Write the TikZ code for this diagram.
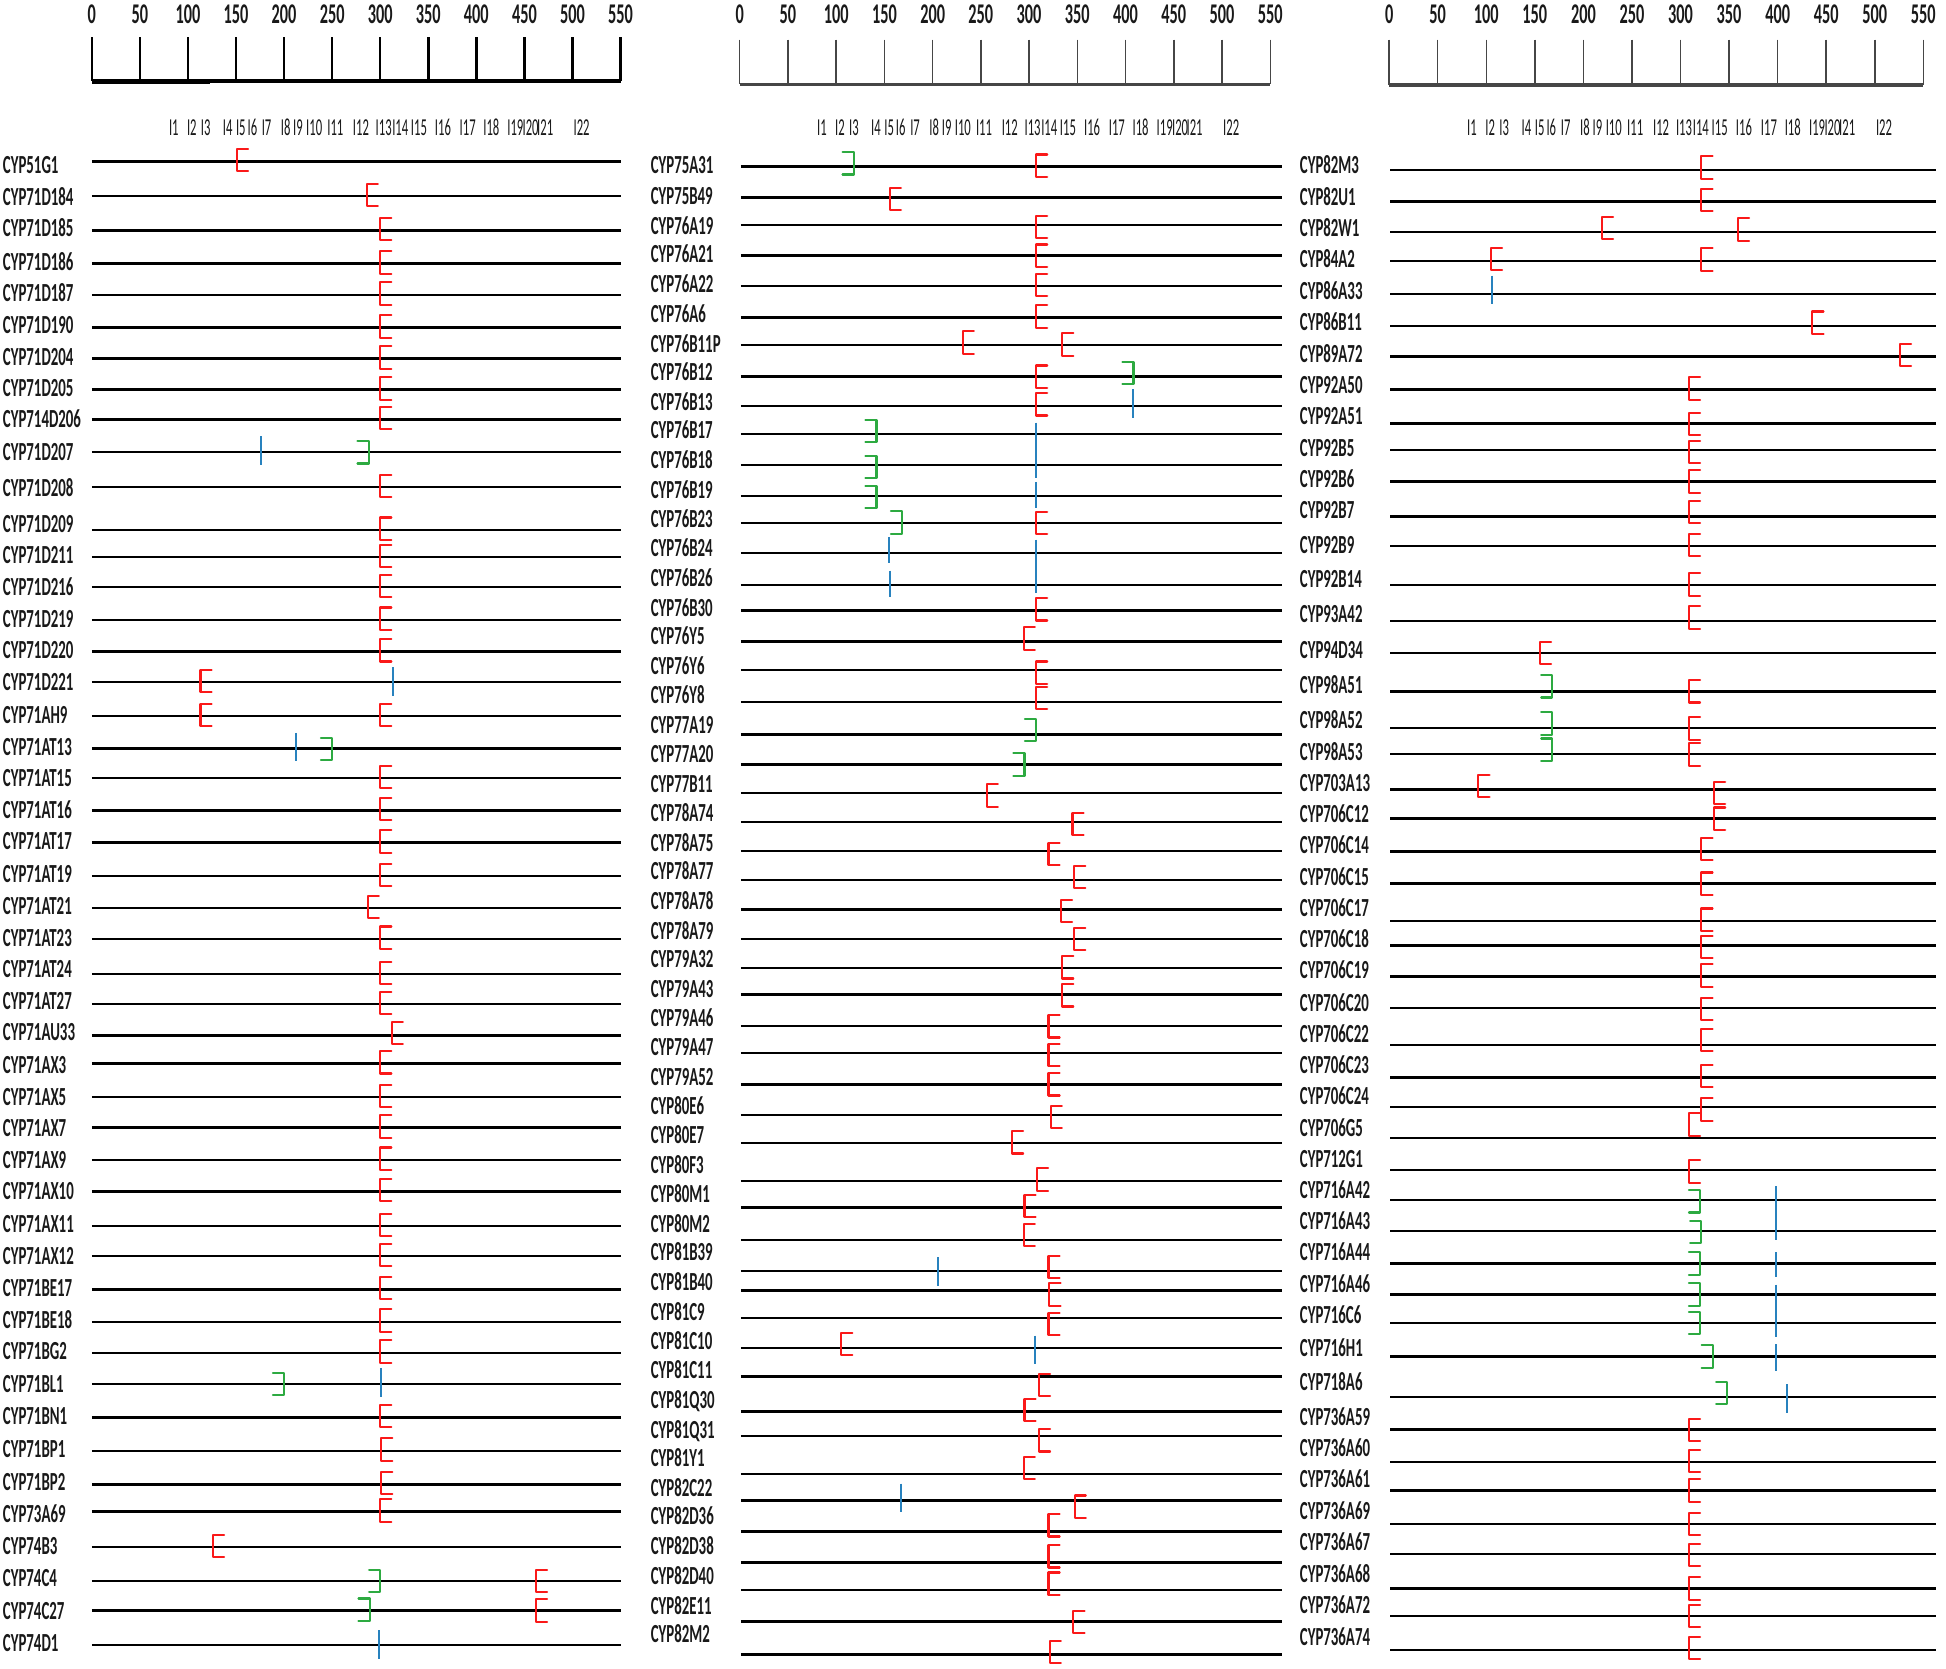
\documentclass[tikz,border=0pt]{standalone}
\usepackage{fontspec}
\newfontfamily\labfont{Carlito}[FakeStretch=0.57]
\newfontfamily\intfont{Carlito}[FakeStretch=0.52]
\definecolor{mred}{RGB}{250,25,25}
\definecolor{mgreen}{RGB}{45,170,65}
\definecolor{mblue}{RGB}{40,130,190}
\definecolor{rulegray}{RGB}{70,70,70}
\newcommand\rulerset[6]{% #1 ox, #2 sx, #3 tick top, #4 baseline, #5 tag, #6 tick style
  \foreach \k in {0,50,...,550}{
    \draw[#6] ({#1+#2*\k},#3) -- ({#1+#2*\k},#4);
    \node[num] (num#5-\k) at ({#1+#2*\k},19) {\k};
  }
  \draw[#6,line width=1.3pt] (#1,#4) -- ({#1+#2*550},#4);
  \foreach \t/\u in {I1/85.3,I2/104,I3/118.4,I4/141.3,I5/155,I6/167,I7/181.8,I8/201.6,I9/214.5,I10/231.3,I11/253.3,I12/280,I13/303.6,I14/320.9,I15/340.3,I16/365.3,I17/391,I18/415.6,I19/440.6,I20/456.5,I21/471.6,I22/509.5}{
    \node[intr] (in#5-\t) at ({#1+#2*\u},109.4) {\t};
  }
}
\begin{document}
\begin{tikzpicture}[x=0.5pt,y=-0.5pt,
  gene/.style={line width=1pt,black},
  lab/.style={anchor=base west,inner sep=0pt,font=\labfont\bfseries\fontsize{10.5}{12}\selectfont,text=black!90},
  num/.style={anchor=base,inner sep=0pt,font=\labfont\bfseries\fontsize{11.5}{13}\selectfont,text=black!90},
  intr/.style={anchor=base,inner sep=0pt,font=\intfont\fontsize{9.8}{11}\selectfont,text=black!90},
  tickA/.style={black,line width=1pt},
  tickB/.style={rulegray,line width=0.6pt},
  redm/.style={mred,line width=0.85pt,line join=round,line cap=round},
  grnm/.style={mgreen,line width=0.85pt,line join=round,line cap=round},
  blum/.style={mblue,line width=0.8pt},
  redb/.pic={\draw[redm] (9,-9) -- (0,-9) -- (0,9) -- (9,9);},
  grnb/.pic={\draw[grnm] (-9,-9) -- (0,-9) -- (0,9) -- (-9,9);},
  blub/.pic={\draw[blum] (0,-11.5) -- (0,11.5);}
]
\useasboundingbox (0,0) rectangle (1568,1344);
\fill[white] (0,0) rectangle (1568,1344);

%================ PANEL 1 =================
\rulerset{74}{0.7745}{30}{65.3}{A}{tickA}
\draw[black,line width=2pt] (74,65.3) -- ({74+0.7745*123},65.3);
\foreach \nm/\ly/\gy in {CYP51G1/133/130, CYP71D184/159/158, CYP71D185/184/185.7, CYP71D186/211/212.5, CYP71D187/236/237.5, CYP71D190/262/264, CYP71D204/288/289, CYP71D205/313/314, CYP714D206/338/338, CYP71D207/364/364, CYP71D208/393/392.5, CYP71D209/422/427, CYP71D211/447/449, CYP71D216/473/473, CYP71D219/499/499.5, CYP71D220/524/525, CYP71D221/550/549.6, CYP71AH9/576/577, CYP71AT13/602/603, CYP71AT15/627/627, CYP71AT16/653/653, CYP71AT17/678/679, CYP71AT19/704/706, CYP71AT21/730/731.6, CYP71AT23/756/756.5, CYP71AT24/781/785, CYP71AT27/807/809, CYP71AU33/832/834.5, CYP71AX3/858/857, CYP71AX5/884/884, CYP71AX7/909/908.6, CYP71AX9/935/934.6, CYP71AX10/960/960, CYP71AX11/986/988, CYP71AX12/1012/1012, CYP71BE17/1038/1039, CYP71BE18/1064/1065, CYP71BG2/1089/1090, CYP71BL1/1115/1115, CYP71BN1/1141/1142, CYP71BP1/1168/1169, CYP71BP2/1194/1196, CYP73A69/1220/1218, CYP74B3/1246/1246.6, CYP74C4/1272/1274, CYP74C27/1298/1297.7, CYP74D1/1324/1325.6}{
  \node[lab] (g-\nm) at (2,\ly+6.7) {\nm};
  \draw[gene] (74,\gy) -- (500,\gy);
}
\def\ox{74}\def\sx{0.7745}
\foreach \u/\y in {151/129, 286/157, 300/184.7, 300/211.5, 300/236.5, 300/263, 300/288, 300/313, 300/337, 300/391.5, 300/426, 300/448, 300/472, 300/498.5, 300/524, 113/548.6, 113/576, 300/576, 300/626, 300/652, 300/678, 300/705, 287/730.6, 300/755.5, 300/784, 300/808, 312/832.5, 300/856, 300/883, 300/907.6, 300/933.6, 300/959, 300/987, 300/1011, 300/1038, 300/1064, 300/1089, 300/1141, 301/1168, 301/1195, 300/1217, 126/1245.6, 462/1274, 462/1297.7}{
  \pic at ({\ox+\sx*\u},\y) {redb};
}
\foreach \u/\y in {288/364.5, 250/603.5, 200/1115, 300/1274, 289/1297}{
  \pic at ({\ox+\sx*\u},\y) {grnb};
}
\foreach \u/\y in {176/363, 313/549, 212/602, 301/1114, 299/1325}{
  \pic at ({\ox+\sx*\u},\y) {blub};
}

%================ PANEL 2 =================
\rulerset{596}{0.7773}{32}{68}{B}{tickB}
\foreach \nm/\ly/\gy in {CYP75A31/133/134.3, CYP75B49/158/159, CYP76A19/182/181.3, CYP76A21/205/206, CYP76A22/229/230.5, CYP76A6/253/256, CYP76B11P/277/278, CYP76B12/300/303.5, CYP76B13/324/327, CYP76B17/347/349.7, CYP76B18/371/374.5, CYP76B19/395/399.5, CYP76B23/418/421.5, CYP76B24/442/445.6, CYP76B26/466/471.4, CYP76B30/490/492, CYP76Y5/513/516.8, CYP76Y6/537/540, CYP76Y8/560/565.6, CYP77A19/584/591.8, CYP77A20/608/616, CYP77B11/632/639, CYP78A74/655/662.4, CYP78A75/679/685.8, CYP78A77/702/709, CYP78A78/726/733, CYP78A79/750/756.4, CYP79A32/773/780, CYP79A43/797/801.5, CYP79A46/820/826.8, CYP79A47/844/848.5, CYP79A52/868/874, CYP80E6/891/898.5, CYP80E7/915/921, CYP80F3/939/951.7, CYP80M1/962/973, CYP80M2/986/999, CYP81B39/1009/1024, CYP81B40/1033/1040, CYP81C9/1057/1062, CYP81C10/1081/1086, CYP81C11/1104/1109, CYP81Q30/1128/1137.4, CYP81Q31/1152/1157, CYP81Y1/1175/1187.5, CYP82C22/1199/1209, CYP82D36/1222/1234, CYP82D38/1246/1259, CYP82D40/1270/1281, CYP82E11/1294/1306.6, CYP82M2/1317/1333}{
  \node[lab] (g-\nm) at (524,\ly+6.7) {\nm};
  \draw[gene] (597,\gy) -- (1033,\gy);
}
\def\ox{596}\def\sx{0.7773}
\foreach \u/\y in {307.2/133.5, 155.6/160.5, 307.2/183, 307.2/206, 307.2/229.8, 307.2/255, 231.2/276, 334.3/277.6, 307.2/303.5, 307.2/325.8, 307.2/421.5, 307.2/491, 294.3/514.5, 307.2/542, 307.2/562.6, 256.1/641, 345/664, 320.1/688, 346.8/706.7, 333/734, 346.8/756.4, 334.3/779.4, 334.3/802, 320.1/827, 320.1/850, 320.1/873.7, 322.3/900, 282.3/920.4, 308.1/950.4, 295.2/971.7, 294.3/995, 320.1/1021, 321/1043, 320.1/1067, 105.3/1083, 310.2/1116, 295.2/1136.1, 310.2/1160.5, 294.3/1183, 347.2/1214, 320.1/1229, 320.1/1254, 320.1/1276, 345.9/1307, 321.4/1331}{
  \pic at ({\ox+\sx*\u},\y) {redb};
}
\foreach \u/\y in {118.2/131.6, 408.2/300.5, 141.8/347.2, 141.8/376.5, 141.8/400.5, 168.4/421, 307.2/588.4, 295.2/616}{
  \pic at ({\ox+\sx*\u},\y) {grnb};
}
\foreach \u/\y in {408.2/325, 205.4/1024.5, 306.4/1087.6, 167.6/1207}{
  \pic at ({\ox+\sx*\u},\y) {blub};
}
\foreach \u/\ya/\yb in {307.2/340.6/385.2, 307.2/388.3/409.7, 307.2/434.7/478, 155/433/453.5, 155.5/459.8/481}{
  \draw[blum] ({\ox+\sx*\u},\ya) -- ({\ox+\sx*\u},\yb);
}

%================ PANEL 3 =================
\rulerset{1119.3}{0.7826}{32}{68.5}{C}{tickB}
\foreach \nm/\ly/\gy in {CYP82M3/133/137, CYP82U1/159/162.5, CYP82W1/184/187, CYP84A2/209/210.3, CYP86A33/235/236.7, CYP86B11/260/262.5, CYP89A72/285/287.4, CYP92A50/310/314, CYP92A51/335/341.3, CYP92B5/361/362.7, CYP92B6/386/388, CYP92B7/411/416.3, CYP92B9/439/440, CYP92B14/467/471.4, CYP93A42/495/500.5, CYP94D34/524/526, CYP98A51/552/557, CYP98A52/580/586.5, CYP98A53/606/607.6, CYP703A13/631/636, CYP706C12/656/659.6, CYP706C14/681/686, CYP706C15/707/712, CYP706C17/732/742, CYP706C18/757/762, CYP706C19/782/787, CYP706C20/808/812, CYP706C22/833/842, CYP706C23/858/868, CYP706C24/883/892, CYP706G5/909/917, CYP712G1/934/942.6, CYP716A42/959/967, CYP716A43/984/992, CYP716A44/1009/1018, CYP716A46/1035/1043, CYP716C6/1060/1066, CYP716H1/1086/1093, CYP718A6/1114/1125.7, CYP736A59/1142/1152, CYP736A60/1167/1178, CYP736A61/1192/1201, CYP736A69/1218/1228, CYP736A67/1243/1252, CYP736A68/1268/1280, CYP736A72/1293/1302, CYP736A74/1319/1329.6}{
  \node[lab] (g-\nm) at (1047,\ly+6.7) {\nm};
  \draw[gene] (1120,\gy) -- (1560,\gy);
}
\def\ox{1119.3}\def\sx{0.7826}
\foreach \u/\y in {321.5/135, 321.5/161, 219/183.5, 359/185, 104.7/208.7, 321.5/209, 435.7/260, 525.8/286, 308.6/313, 308.6/341.5, 308.6/364, 308.6/388, 308.6/412.4, 308.6/439, 308.6/471, 308.6/497.5, 155.2/526, 308.6/557, 308.6/587, 308.6/608, 91.8/633.5, 334.5/639, 334.5/659.6, 321.5/684, 321.5/712, 321.5/741, 321.5/763, 321.5/786, 321.5/813, 321.5/838, 321.5/867, 321.5/894, 308.6/906, 308.6/944, 308.6/1152, 308.6/1177, 308.6/1201, 308.6/1228, 308.6/1253, 308.6/1280, 308.6/1302, 308.6/1328}{
  \pic at ({\ox+\sx*\u},\y) {redb};
}
\foreach \u/\y in {168.1/553, 168.1/583, 168.1/604, 320.2/968, 321.5/992.6, 320.2/1018, 320.2/1043, 320.2/1066, 333.2/1093, 348.2/1122.5}{
  \pic at ({\ox+\sx*\u},\y) {grnb};
}
\foreach \u/\y in {105.6/233.5, 409.9/1127}{
  \pic at ({\ox+\sx*\u},\y) {blub};
}
\foreach \ya/\yb in {956/999, 1009/1029, 1035/1077, 1083/1105}{
  \draw[blum] ({\ox+\sx*397.8},\ya) -- ({\ox+\sx*397.8},\yb);
}
\end{tikzpicture}
\end{document}
